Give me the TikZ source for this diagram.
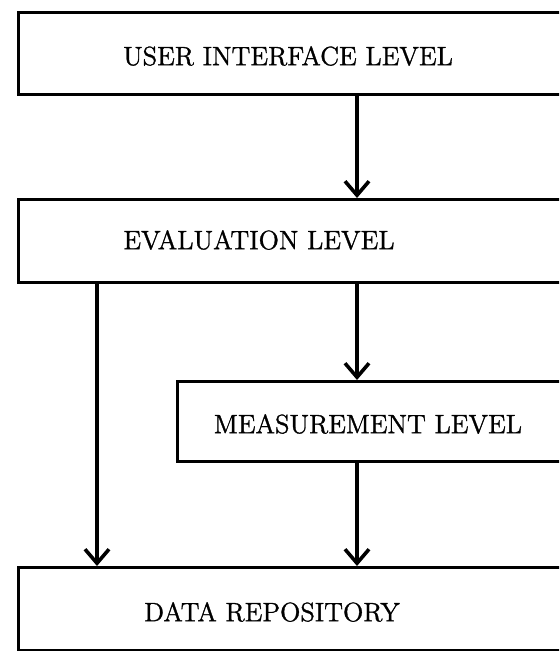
\documentclass[tikz,border=0pt]{standalone}
\usepackage{fontspec}
\usetikzlibrary{arrows.meta}
\newfontfamily\levelfont{Latin Modern Roman}[FakeBold=1.2]

\begin{document}
\begin{tikzpicture}[x=0.5pt, y=-0.5pt,
    levelbox/.style={draw, line width=1.6pt, anchor=north west, inner sep=0pt},
    levellabel/.style={font=\levelfont\fontsize{13.3}{16}\selectfont},
    flow/.style={line width=1.8pt, -{Straight Barb[length=7pt, width=12pt, line width=1.8pt]}}]

    \useasboundingbox (0,0) rectangle (559,651);
    \clip (0,0) rectangle (559,651);

    % Columns of the arrows
    \coordinate (mid) at (357,0);
    \coordinate (lft) at (97,0);

    % Boxes
    \node[levelbox, minimum width=291.5pt, minimum height=41pt] (ui) at (17,11) {};
    \node[levelbox, minimum width=291.5pt, minimum height=41.5pt] (ev) at (17,198) {};
    \node[levelbox, minimum width=212pt, minimum height=40pt] (ms) at (176,380) {};
    \node[levelbox, minimum width=291.5pt, minimum height=41.5pt] (dr) at (17,566) {};

    % Labels
    \node[levellabel] (uiL) at (288,56) {USER INTERFACE LEVEL};
    \node[levellabel] (evL) at (259,240) {EVALUATION LEVEL};
    \node[levellabel] (msL) at (368,424) {MEASUREMENT LEVEL};
    \node[levellabel] (drL) at (272,612) {DATA REPOSITORY};

    % Arrows
    \draw[flow] (ui.south -| mid) -- (ev.north -| mid);
    \draw[flow] (ev.south -| mid) -- (ms.north -| mid);
    \draw[flow] (ms.south -| mid) -- (dr.north -| mid);
    \draw[flow] (ev.south -| lft) -- (dr.north -| lft);

\end{tikzpicture}
\end{document}
